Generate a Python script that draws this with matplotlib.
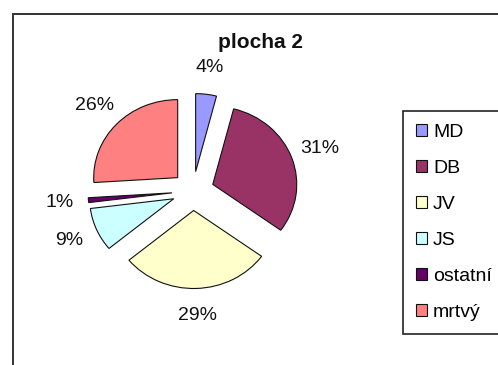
import matplotlib
matplotlib.use("Agg")
import matplotlib.pyplot as plt
from matplotlib.patches import Rectangle

plt.rcParams['font.family'] = ['Liberation Sans', 'DejaVu Sans']

categories = ["MD", "DB", "JV", "JS", "ostatní", "mrtvý"]
values = [4, 31, 29, 9, 1, 26]
colors = ["#9999FF", "#993366", "#FFFFCC", "#CCFFFF", "#660066", "#FF8080"]
title = "plocha 2"

W, H = 498, 365
fig = plt.figure(figsize=(W / 100, H / 100), dpi=100)

# outer chart border
fig.patches.append(Rectangle((13 / W, -0.05), 1.1, 1 - 14 / H + 0.05,
                             transform=fig.transFigure, fill=False,
                             edgecolor="#333333", linewidth=1.4))

ax = fig.add_axes([0, 0, 1, 1])
wedges, texts, autotexts = ax.pie(
    values, colors=colors, startangle=90, counterclock=False,
    explode=[0.25] * len(values), radius=1,
    autopct='%1.0f%%', pctdistance=1.35,
    wedgeprops=dict(edgecolor="#111111", linewidth=0.8),
    textprops=dict(fontsize=14, color="#111111"))

cx, cy = 193, H - 191
rx, ry = 84, 78
ax.set_aspect('auto')
ax.set_xlim(-cx / rx, (W - cx) / rx)
ax.set_ylim(-cy / ry, (H - cy) / ry)
ax.axis('off')

fig.text(260 / W, 1 - 42 / H, title, ha='center', va='center',
         fontsize=15, fontweight='bold', color='#111111')

leg = fig.legend(wedges, categories, loc='upper left',
                 bbox_to_anchor=(403 / W, 1 - 111 / H, 0.3, 0),
                 mode='expand', fontsize=14, frameon=True, fancybox=False,
                 edgecolor='#222222', handlelength=0.6, handleheight=0.6,
                 handletextpad=0.3, labelspacing=0.98, borderpad=0.65,
                 borderaxespad=0, framealpha=1)
leg.get_frame().set_linewidth(1.2)

fig.savefig("out.png", dpi=100)
